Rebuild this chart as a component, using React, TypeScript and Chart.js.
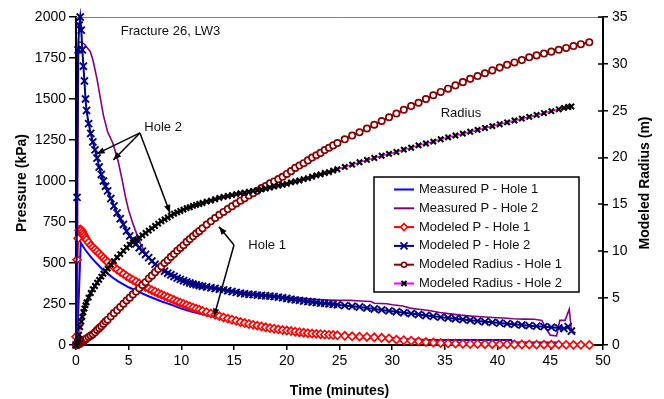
import React, { useEffect, useRef } from "react";
import { Chart, registerables } from "chart.js";

Chart.register(...registerables);

// ---------- data ----------
const tMeas1 = [0, 0.15, 0.2, 0.45, 0.8, 1.0, 1.5, 2.0, 2.5, 3.0, 3.5, 4.0, 5.0, 6.0, 7.0, 8.0, 9.0, 10.0, 11.0, 12.0, 13.0, 14.0, 15.0, 16.0, 17.0, 18.0, 19.0, 20.0, 21.0, 22.0, 23.0, 24.0, 25.0, 26.0, 27.0, 28.0, 29.0, 30.0, 31.0, 32.0, 33.0, 35.0, 38.0, 41.3, 41.4, 45.6, 45.7, 47.3];
const pMeas1 = [0, 0, 175, 625, 588, 570, 530, 495, 462, 435, 410, 388, 352, 322, 294, 268, 246, 222, 203, 188, 173, 160, 147, 135, 123, 112, 102, 92, 83, 76, 70, 65, 60, 56, 52, 48, 45, 41, 37, 34, 32, 31, 30, 30, 16, 16, 5, 5];

const tMeas2 = [0, 0.1, 0.15, 0.25, 0.5, 0.8, 1.1, 1.35, 1.6, 1.8, 2.0, 2.3, 2.6, 3.0, 3.5, 4.0, 4.4, 4.7, 5.0, 5.4, 5.8, 6.1, 6.7, 7.2, 8, 9, 10, 11, 12, 13, 14, 15, 16, 17, 18, 19, 20, 21, 22, 23, 24, 25, 26, 27, 28, 28.3, 29.5, 30.0, 31.0, 31.7, 32.5, 33.5, 34.5, 35.5, 36.5, 37.5, 38.5, 39.5, 40.5, 41.5, 42.5, 43.5, 44.2, 44.6, 45.0, 45.6, 45.9, 46.4, 46.8, 47.0, 47.4];
const pMeas2 = [0, 0, 1000, 1850, 1845, 1835, 1810, 1790, 1740, 1680, 1620, 1510, 1400, 1300, 1230, 1120, 1000, 900, 820, 740, 670, 620, 545, 510, 475, 435, 400, 380, 365, 352, 340, 330, 322, 314, 306, 300, 292, 286, 281, 277, 274, 272, 272, 268, 265, 255, 252, 245, 238, 225, 218, 210, 198, 190, 182, 176, 172, 168, 165, 160, 158, 157, 150, 100, 60, 55, 150, 150, 218, 90, 72];

const tHole1 = [
  0, 0.1, 0.2, 0.3, 0.4, 0.5, 0.6, 0.7, 0.8, 0.9, 1.0, 1.2, 1.4, 1.6, 1.8, 2.0, 2.2, 2.4, 2.6, 2.8, 3.0,
  3.3, 3.6, 3.9, 4.2, 4.5, 4.8, 5.1, 5.4, 5.7, 6.0, 6.3, 6.6, 6.9, 7.2, 7.5, 7.8, 8.1, 8.4, 8.7, 9.0, 9.3, 9.6, 9.9, 10.2, 10.5, 10.8, 11.1, 11.4, 11.7, 12.0,
  12.4, 12.8, 13.2, 13.6, 14.0, 14.4, 14.8, 15.2, 15.6, 16.0, 16.4, 16.8, 17.2, 17.6, 18.0, 18.4, 18.8, 19.2, 19.6, 20.0, 20.4, 20.8, 21.2, 21.6, 22.0, 22.4, 22.8, 23.2, 23.6, 24.0, 24.4, 24.8,
  25.5, 26.2, 26.9, 27.6, 28.3, 29.0, 29.7, 30.4, 31.1, 31.8, 32.5, 33.2, 33.9, 34.6, 35.3, 36.0, 36.7, 37.4, 38.1, 38.8, 39.5, 40.2, 40.9, 41.6, 42.3, 43.0, 43.7, 44.4, 45.1, 45.8,
  46.5, 47.2, 47.9, 48.7,
];
const pModel1 = [
  50, 520, 650, 700, 705, 700, 690, 677, 665, 653, 642, 625, 608, 595, 582, 570, 557, 544, 530, 518, 505,
  490, 475, 460, 447, 434, 420, 408, 397, 386, 375, 364, 354, 344, 334, 325, 316, 307, 299, 291, 282, 274, 266, 258, 250, 243, 235, 228, 221, 215, 208,
  200, 192, 184, 176, 168, 161, 154, 147, 140, 134, 128, 123, 118, 113, 108, 103, 99, 95, 91, 88, 85, 81, 78, 75, 72, 70, 68, 66, 64, 62, 61, 59,
  56, 53, 51, 49, 47, 44, 40, 33, 29, 26, 22, 18, 15, 12, 10, 9, 7, 6, 6, 5, 5, 4, 4, 3, 3, 3, 2, 2, 2, 2,
  1, 1, 1, 0,
];
const rModel1 = [
  0, 0, 0.05, 0.1, 0.15, 0.25, 0.35, 0.42, 0.5, 0.6, 0.7, 0.85, 1.0, 1.15, 1.35, 1.6, 1.8, 2.0, 2.25, 2.5, 2.7,
  3.05, 3.4, 3.7, 4.05, 4.4, 4.75, 5.05, 5.4, 5.7, 6.05, 6.4, 6.7, 7.1, 7.4, 7.75, 8.1, 8.4, 8.75, 9.05, 9.4, 9.7, 10.05, 10.35, 10.65, 11.0, 11.3, 11.6, 11.9, 12.15, 12.45,
  12.85, 13.2, 13.55, 13.9, 14.2, 14.5, 14.8, 15.1, 15.4, 15.65, 15.95, 16.2, 16.45, 16.75, 16.95, 17.25, 17.45, 17.7, 17.95, 18.25, 18.55, 18.9, 19.15, 19.4, 19.7, 20.0, 20.25, 20.5, 20.8, 21.05, 21.3, 21.55,
  21.95, 22.35, 22.7, 23.1, 23.5, 23.9, 24.3, 24.7, 25.1, 25.5, 25.85, 26.25, 26.65, 27.0, 27.35, 27.7, 28.05, 28.4, 28.7, 29.0, 29.3, 29.6, 29.9, 30.15, 30.4, 30.7, 30.9, 31.1, 31.3, 31.5,
  31.7, 31.9, 32.1, 32.3,
];

const tHole2 = [
  0, 0.1, 0.2, 0.3, 0.4, 0.5, 0.6, 0.7, 0.8, 0.9, 1.0, 1.2, 1.4, 1.6, 1.8, 2.0, 2.2, 2.4, 2.6, 2.8, 3.0,
  3.3, 3.6, 3.9, 4.2, 4.5, 4.8, 5.1, 5.4, 5.7, 6.0, 6.3, 6.6, 6.9, 7.2, 7.5, 7.8, 8.1, 8.4, 8.7, 9.0, 9.3, 9.6, 9.9, 10.2, 10.5, 10.8, 11.1, 11.4, 11.7, 12.0,
  12.4, 12.8, 13.2, 13.6, 14.0, 14.4, 14.8, 15.2, 15.6, 16.0, 16.4, 16.8, 17.2, 17.6, 18.0, 18.4, 18.8, 19.2, 19.6, 20.0, 20.4, 20.8, 21.2, 21.6, 22.0, 22.4, 22.8, 23.2, 23.6, 24.0, 24.4, 24.8,
  25.5, 26.2, 26.9, 27.6, 28.3, 29.0, 29.7, 30.4, 31.1, 31.8, 32.5, 33.2, 33.9, 34.6, 35.3, 36.0, 36.7, 37.4, 38.1, 38.8, 39.5, 40.2, 40.9, 41.6, 42.3, 43.0, 43.7, 44.4, 45.1, 45.8,
  46.3, 46.7, 47.0,
];
const pModel2 = [
  0, 900, 1800, 1950, 2000, 1920, 1800, 1700, 1610, 1500, 1430, 1350, 1290, 1238, 1190, 1140, 1085, 1040, 1000, 968, 940,
  893, 848, 805, 770, 735, 695, 665, 640, 617, 593, 572, 552, 533, 512, 492, 476, 462, 450, 438, 428, 418, 408, 400, 392, 385, 378, 372, 367, 362, 358,
  354, 349, 345, 340, 336, 331, 326, 321, 316, 312, 309, 307, 304, 302, 300, 298, 295, 292, 288, 284, 279, 275, 272, 268, 265, 262, 259, 256, 254, 251, 248, 245,
  240, 236, 232, 226, 220, 214, 208, 203, 197, 192, 186, 180, 175, 170, 165, 160, 155, 151, 146, 142, 138, 134, 130, 126, 122, 118, 115, 112, 108, 104,
  100, 112, 85,
];
const rModel2 = [
  0, 0.3, 0.6, 1.1, 1.9, 2.5, 3.0, 3.5, 3.9, 4.25, 4.55, 5.05, 5.55, 5.95, 6.3, 6.65, 6.95, 7.3, 7.6, 7.9, 8.15,
  8.55, 8.95, 9.35, 9.7, 10.05, 10.4, 10.7, 10.95, 11.2, 11.45, 11.7, 11.95, 12.2, 12.45, 12.7, 12.95, 13.2, 13.4, 13.6, 13.8, 14.0, 14.15, 14.3, 14.45, 14.6, 14.7, 14.85, 14.95, 15.05, 15.15,
  15.3, 15.4, 15.55, 15.7, 15.8, 15.9, 16.0, 16.1, 16.2, 16.25, 16.35, 16.45, 16.5, 16.6, 16.7, 16.8, 16.9, 17.0, 17.1, 17.2, 17.35, 17.45, 17.55, 17.7, 17.8, 17.95, 18.1, 18.2, 18.35, 18.45, 18.6, 18.75,
  19.0, 19.25, 19.5, 19.75, 19.95, 20.2, 20.4, 20.6, 20.85, 21.05, 21.3, 21.5, 21.7, 21.95, 22.15, 22.35, 22.55, 22.75, 22.95, 23.15, 23.35, 23.55, 23.75, 23.95, 24.15, 24.35, 24.55, 24.75, 24.95, 25.15,
  25.3, 25.4, 25.45,
];

const xTicks = { min: 0, max: 50, step: 5 };
const pTicks = { min: 0, max: 2000, step: 250 };
const rTicks = { min: 0, max: 35, step: 5 };

const seriesLabels = [
  "Measured P - Hole 1",
  "Measured P - Hole 2",
  "Modeled P - Hole 1",
  "Modeled P - Hole 2",
  "Modeled Radius - Hole 1",
  "Modeled Radius - Hole 2",
];

// annotation texts placed in data space (time, pressure)
const noteTexts = [
  { text: "Fracture 26, LW3", t: 4.24, p: 1910 },
  { text: "Hole 2", t: 6.48, p: 1328 },
  { text: "Hole 1", t: 16.35, p: 610 },
  { text: "Radius", t: 34.6, p: 1413 },
];
// arrows: from (t0,p0) to (t1,p1), pressure units
const noteArrows = [
  { t0: 6.07, p0: 1293, t1: 1.96, p1: 1165 },
  { t0: 6.07, p0: 1293, t1: 3.54, p1: 1128 },
  { t0: 6.07, p0: 1293, t1: 8.92, p1: 805 },
  { t0: 14.99, p0: 610, t1: 13.57, p1: 721 },
  { t0: 14.99, p0: 610, t1: 13.09, p1: 173 },
];

const FONT = "'Liberation Sans', Arial, Helvetica, sans-serif";

const pts = (t: number[], v: number[]) => t.map((x, i) => ({ x, y: v[i] }));

function drawArrow(ctx: CanvasRenderingContext2D, x1: number, y1: number, x2: number, y2: number) {
  ctx.beginPath();
  ctx.moveTo(x1, y1);
  ctx.lineTo(x2, y2);
  ctx.stroke();
  const ang = Math.atan2(y2 - y1, x2 - x1);
  const len = 8;
  const w = 3.2;
  ctx.beginPath();
  ctx.moveTo(x2, y2);
  ctx.lineTo(x2 - len * Math.cos(ang) + w * Math.sin(ang), y2 - len * Math.sin(ang) - w * Math.cos(ang));
  ctx.lineTo(x2 - len * Math.cos(ang) - w * Math.sin(ang), y2 - len * Math.sin(ang) + w * Math.cos(ang));
  ctx.closePath();
  ctx.fill();
}

function drawMarker(ctx: CanvasRenderingContext2D, kind: string, x: number, y: number, color: string) {
  ctx.save();
  ctx.strokeStyle = color;
  ctx.fillStyle = "#fff";
  if (kind === "diamond") {
    ctx.lineWidth = 1.5;
    ctx.beginPath();
    ctx.moveTo(x, y - 3.5);
    ctx.lineTo(x + 3.5, y);
    ctx.lineTo(x, y + 3.5);
    ctx.lineTo(x - 3.5, y);
    ctx.closePath();
    ctx.fill();
    ctx.stroke();
  } else if (kind === "circle") {
    ctx.lineWidth = 1.5;
    ctx.beginPath();
    ctx.arc(x, y, 2.5, 0, Math.PI * 2);
    ctx.fill();
    ctx.stroke();
  } else if (kind === "x" || kind === "xs") {
    ctx.lineWidth = kind === "x" ? 1.8 : 2;
    const r = kind === "x" ? 3.5 : 2.5;
    ctx.beginPath();
    ctx.moveTo(x - r, y - r);
    ctx.lineTo(x + r, y + r);
    ctx.moveTo(x + r, y - r);
    ctx.lineTo(x - r, y + r);
    ctx.stroke();
  }
  ctx.restore();
}

const legendStyle = [
  { color: "#0000FF", marker: "", mColor: "" },
  { color: "#800080", marker: "", mColor: "" },
  { color: "#FF0000", marker: "diamond", mColor: "#FF0000" },
  { color: "#000080", marker: "x", mColor: "#000080" },
  { color: "#800000", marker: "circle", mColor: "#800000" },
  { color: "#FF00FF", marker: "xs", mColor: "#000000" },
];

const overlay = {
  id: "overlay",
  beforeDatasetsDraw(chart: any) {
    const { ctx, chartArea: a } = chart;
    ctx.save();
    ctx.strokeStyle = "#808080";
    ctx.lineWidth = 1;
    ctx.beginPath();
    ctx.moveTo(a.left, a.top + 0.5);
    ctx.lineTo(a.right, a.top + 0.5);
    ctx.stroke();
    ctx.restore();
  },
  afterDatasetsDraw(chart: any) {
    const { ctx, chartArea: a, scales } = chart;
    const sx = scales.x;
    const sy = scales.y;
    const sy2 = scales.y2;
    ctx.save();

    // inner half of the right-axis tick marks (cross ticks)
    ctx.strokeStyle = "#000";
    ctx.lineWidth = 1.5;
    for (let v = rTicks.min; v <= rTicks.max; v += rTicks.step) {
      const py = Math.round(sy2.getPixelForValue(v));
      ctx.beginPath();
      ctx.moveTo(a.right - 5, py);
      ctx.lineTo(a.right, py);
      ctx.stroke();
    }

    // annotations
    ctx.fillStyle = "#111";
    ctx.strokeStyle = "#000";
    ctx.lineWidth = 1.5;
    ctx.font = `13px ${FONT}`;
    ctx.textAlign = "left";
    ctx.textBaseline = "middle";
    for (const n of noteTexts) {
      ctx.fillText(n.text, sx.getPixelForValue(n.t), sy.getPixelForValue(n.p));
    }
    ctx.fillStyle = "#000";
    for (const r of noteArrows) {
      drawArrow(ctx, sx.getPixelForValue(r.t0), sy.getPixelForValue(r.p0), sx.getPixelForValue(r.t1), sy.getPixelForValue(r.p1));
    }

    // legend
    const bx = a.right - 229;
    const by = a.top + 160;
    const bw = 205;
    const bh = 115;
    ctx.fillStyle = "#fff";
    ctx.fillRect(bx, by, bw, bh);
    ctx.strokeStyle = "#000";
    ctx.lineWidth = 1.5;
    ctx.strokeRect(bx, by, bw, bh);
    ctx.font = `13px ${FONT}`;
    ctx.textBaseline = "middle";
    ctx.textAlign = "left";
    for (let i = 0; i < seriesLabels.length; i++) {
      const st = legendStyle[i];
      const ly = by + 12.5 + i * 18.8;
      ctx.strokeStyle = st.color;
      ctx.lineWidth = 2;
      ctx.beginPath();
      ctx.moveTo(bx + 20, ly);
      ctx.lineTo(bx + 40, ly);
      ctx.stroke();
      if (st.marker) drawMarker(ctx, st.marker, bx + 30, ly, st.mColor);
      ctx.fillStyle = "#111";
      ctx.fillText(seriesLabels[i], bx + 45, ly);
    }

    // axis titles
    ctx.fillStyle = "#000";
    ctx.font = `bold 14px ${FONT}`;
    ctx.textAlign = "center";
    ctx.textBaseline = "middle";
    ctx.fillText("Time (minutes)", (a.left + a.right) / 2, a.bottom + 46);
    const cy = (a.top + a.bottom) / 2 + 2;
    ctx.save();
    ctx.translate(a.left - 54, cy);
    ctx.rotate(-Math.PI / 2);
    ctx.fillText("Pressure (kPa)", 0, 0);
    ctx.restore();
    ctx.save();
    ctx.translate(a.right + 42, cy);
    ctx.rotate(-Math.PI / 2);
    ctx.fillText("Modeled Radius (m)", 0, 0);
    ctx.restore();

    ctx.restore();
  },
};

export default function App() {
  const ref = useRef<HTMLCanvasElement | null>(null);

  useEffect(() => {
    document.body.style.margin = "0";
    const canvas = ref.current;
    if (!canvas) return;
    const tickFont = { family: FONT, size: 14 };
    const plain = (v: any) => String(v);
    const chart = new Chart(canvas, {
      type: "line",
      data: {
        datasets: [
          {
            label: seriesLabels[0],
            data: pts(tMeas1, pMeas1),
            yAxisID: "y",
            borderColor: "#0000FF",
            borderWidth: 2,
            pointRadius: 0,
            order: 6,
          },
          {
            label: seriesLabels[1],
            data: pts(tMeas2, pMeas2),
            yAxisID: "y",
            borderColor: "#800080",
            borderWidth: 1.6,
            pointRadius: 0,
            order: 5,
          },
          {
            label: seriesLabels[2],
            data: pts(tHole1, pModel1),
            yAxisID: "y",
            borderColor: "#FF0000",
            borderWidth: 2,
            pointStyle: "rectRot",
            pointRadius: 4,
            pointBorderColor: "#FF0000",
            pointBackgroundColor: "#FFFFFF",
            pointBorderWidth: 1.7,
            order: 4,
          },
          {
            label: seriesLabels[3],
            data: pts(tHole2, pModel2),
            yAxisID: "y",
            borderColor: "#000080",
            borderWidth: 2,
            pointStyle: "crossRot",
            pointRadius: 5,
            pointBorderColor: "#000080",
            pointBorderWidth: 1.9,
            order: 3,
          },
          {
            label: seriesLabels[4],
            data: pts(tHole1, rModel1),
            yAxisID: "y2",
            borderColor: "#800000",
            borderWidth: 2,
            pointStyle: "circle",
            pointRadius: 3.2,
            pointBorderColor: "#800000",
            pointBackgroundColor: "#FFFFFF",
            pointBorderWidth: 1.7,
            order: 2,
          },
          {
            label: seriesLabels[5],
            data: pts(tHole2, rModel2),
            yAxisID: "y2",
            borderColor: "#FF00FF",
            borderWidth: 1.5,
            pointStyle: "crossRot",
            pointRadius: 3.8,
            pointBorderColor: "#000000",
            pointBorderWidth: 2.1,
            order: 1,
          },
        ] as any,
      },
      options: {
        responsive: false,
        maintainAspectRatio: false,
        animation: false,
        layout: { padding: { top: 17, left: 0, right: 0, bottom: 0 } },
        elements: { line: { tension: 0 } },
        datasets: { line: { clip: false } } as any,
        plugins: { legend: { display: false }, tooltip: { enabled: false } },
        scales: {
          x: {
            type: "linear",
            position: "bottom",
            min: xTicks.min,
            max: xTicks.max,
            ticks: { stepSize: xTicks.step, color: "#000", font: tickFont, padding: 3, maxRotation: 0, callback: plain },
            grid: { drawOnChartArea: false, drawTicks: true, tickLength: 5, color: "#000", lineWidth: 1.5 },
            border: { display: true, color: "#000", width: 2 },
            afterFit: (s: any) => {
              s.height = 54;
            },
          },
          y: {
            type: "linear",
            position: "left",
            min: pTicks.min,
            max: pTicks.max,
            ticks: { stepSize: pTicks.step, color: "#000", font: tickFont, padding: 3, callback: plain },
            grid: { drawOnChartArea: false, drawTicks: true, tickLength: 7, color: "#000", lineWidth: 1.5 },
            border: { display: true, color: "#000", width: 2 },
            afterFit: (s: any) => {
              s.width = 76;
            },
          },
          y2: {
            type: "linear",
            position: "right",
            min: rTicks.min,
            max: rTicks.max,
            ticks: { stepSize: rTicks.step, color: "#000", font: tickFont, padding: 4, callback: plain },
            grid: { drawOnChartArea: false, drawTicks: true, tickLength: 5, color: "#000", lineWidth: 1.5 },
            border: { display: true, color: "#000", width: 2 },
            afterFit: (s: any) => {
              s.width = 61;
            },
          },
        },
      } as any,
      plugins: [overlay],
    });
    return () => chart.destroy();
  }, []);

  return (
    <div style={{ width: 664, height: 399, background: "#fff" }}>
      <canvas ref={ref} width={664} height={399} style={{ display: "block" }} />
    </div>
  );
}
